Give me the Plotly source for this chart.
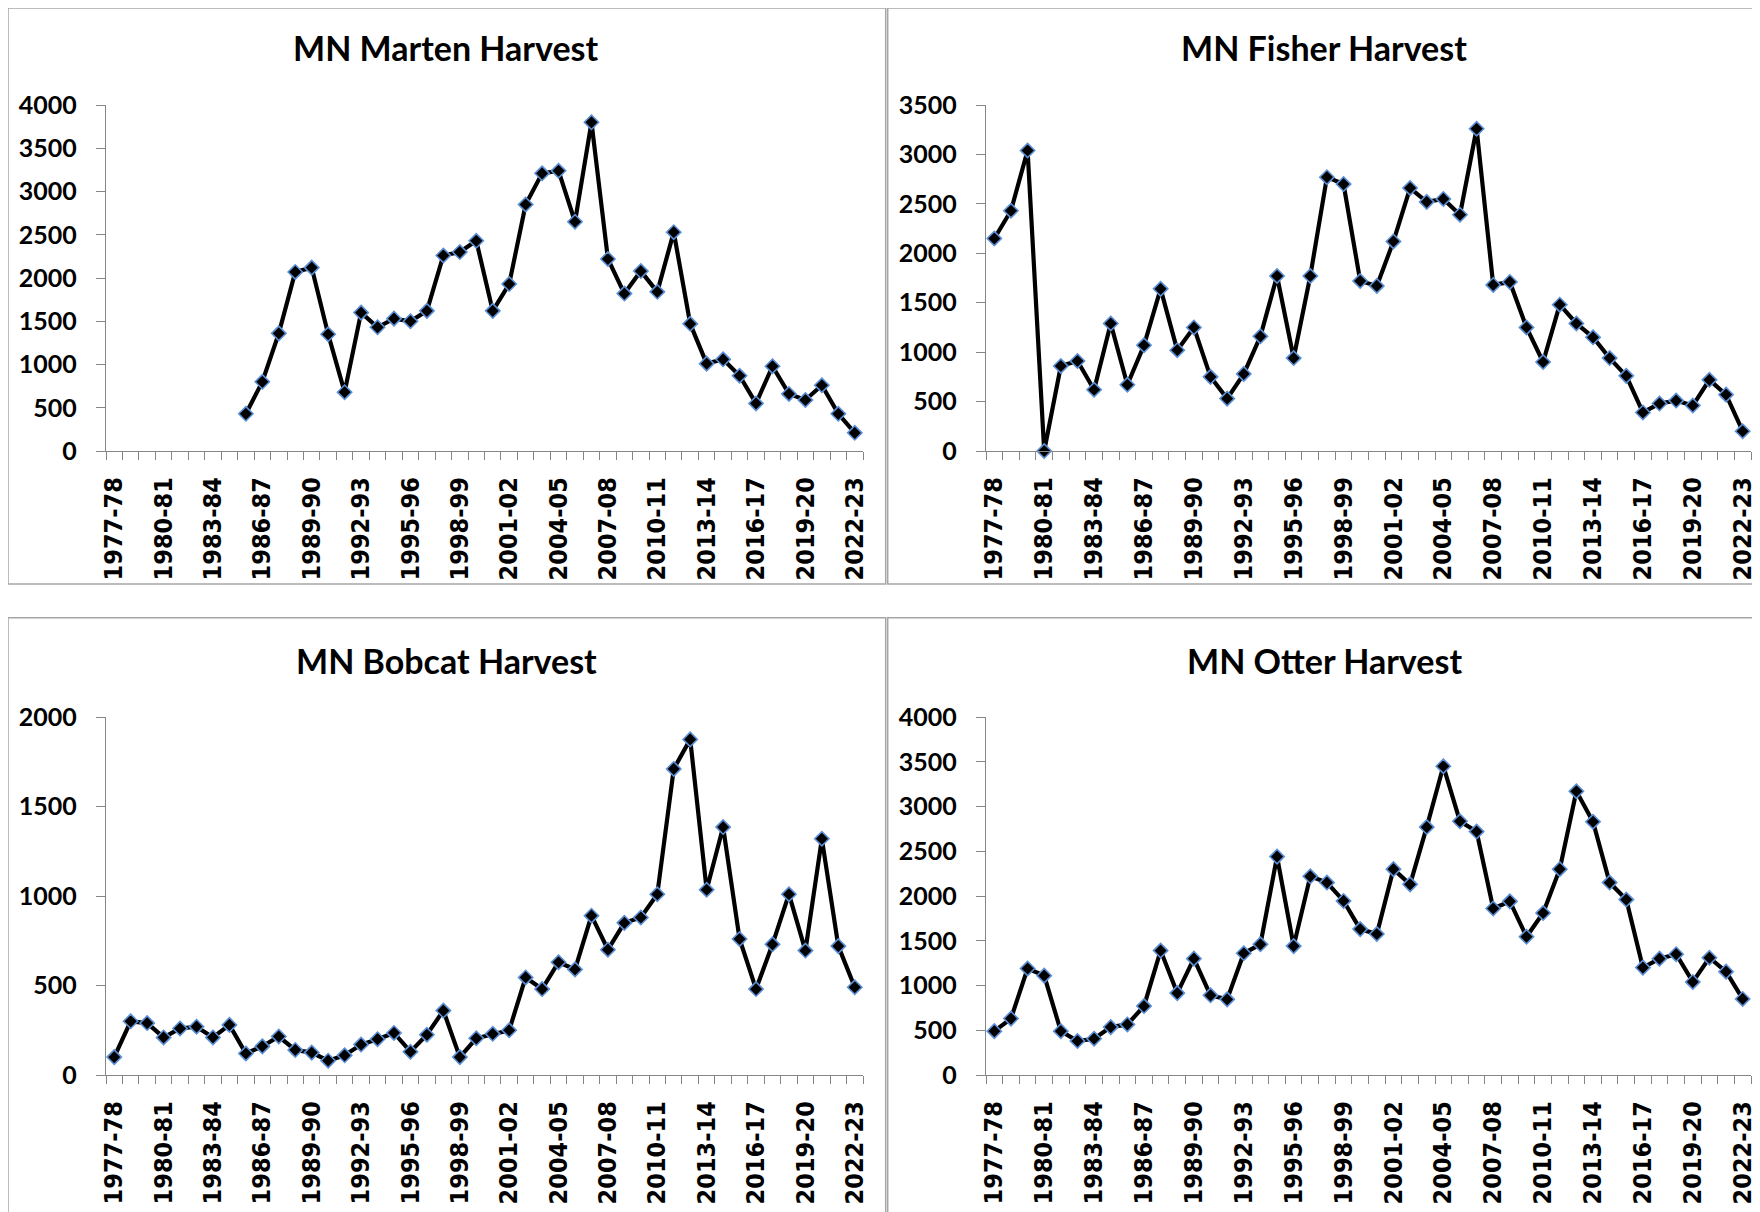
import plotly.graph_objects as go

seasons = ["1977-78", "1978-79", "1979-80", "1980-81", "1981-82", "1982-83", "1983-84",
           "1984-85", "1985-86", "1986-87", "1987-88", "1988-89", "1989-90", "1990-91",
           "1991-92", "1992-93", "1993-94", "1994-95", "1995-96", "1996-97", "1997-98",
           "1998-99", "1999-00", "2000-01", "2001-02", "2002-03", "2003-04", "2004-05",
           "2005-06", "2006-07", "2007-08", "2008-09", "2009-10", "2010-11", "2011-12",
           "2012-13", "2013-14", "2014-15", "2015-16", "2016-17", "2017-18", "2018-19",
           "2019-20", "2020-21", "2021-22", "2022-23"]

marten = [None, None, None, None, None, None, None, None,
          430, 800, 1360, 2070, 2120, 1350, 680, 1600, 1430, 1530,
          1500, 1620, 2260, 2300, 2430, 1620, 1930, 2850, 3210, 3240,
          2650, 3800, 2220, 1820, 2080, 1840, 2530, 1470, 1010, 1060,
          870, 550, 980, 660, 590, 760, 430, 210]

fisher = [2150, 2430, 3040, 0, 860, 910, 620, 1290, 670, 1070,
          1640, 1020, 1250, 750, 530, 780, 1160, 1770, 940, 1770,
          2770, 2700, 1720, 1670, 2120, 2660, 2520, 2550, 2390, 3260,
          1680, 1710, 1250, 900, 1480, 1290, 1150, 940, 760, 390,
          480, 510, 460, 720, 570, 200]

bobcat = [100, 300, 290, 210, 260, 270, 210, 280, 120, 160,
          215, 140, 125, 80, 110, 170, 200, 235, 130, 225,
          360, 100, 205, 230, 250, 545, 480, 630, 590, 890,
          700, 850, 880, 1010, 1710, 1875, 1035, 1385, 760, 480,
          730, 1010, 695, 1320, 720, 490]

otter = [490, 630, 1190, 1110, 490, 380, 405, 535, 565, 770,
         1390, 915, 1300, 890, 845, 1360, 1460, 2440, 1440, 2220,
         2150, 1945, 1630, 1575, 2300, 2130, 2770, 3450, 2835, 2720,
         1860, 1940, 1545, 1810, 2300, 3170, 2830, 2150, 1960, 1200,
         1300, 1350, 1040, 1310, 1155, 850]

titles = ["MN Marten Harvest", "MN Fisher Harvest", "MN Bobcat Harvest", "MN Otter Harvest"]
y_max = [4000, 3500, 2000, 4000]
series = [marten, fisher, bobcat, otter]

W, H = 1760, 1212
OFF = 8  # page body margin in the browser
idx = list(range(len(seasons)))

def px(x):
    return (x - OFF) / W

def py(y):
    return 1 - (y - OFF) / H

# plot-area boxes in screen pixels: (x_left, x_right, y_top, y_bottom)
boxes = [(106, 863, 105, 451), (986, 1751, 105, 451),
         (106, 863, 717, 1075), (986, 1751, 717, 1075)]
# title centres (screen pixels)
title_pos = [(446, 48), (1324, 48), (446, 660), (1324, 660)]

AX = "#868686"
fig = go.Figure()
layout = {}
for k in range(4):
    n = "" if k == 0 else str(k + 1)
    xl, xr, yt, yb = boxes[k]
    fig.add_trace(go.Scatter(
        x=idx, y=series[k], mode="lines+markers",
        xaxis="x" + n, yaxis="y" + n,
        line=dict(color="black", width=4.2),
        marker=dict(symbol="diamond", size=11, color="black",
                    line=dict(color="#5b8fd6", width=1.6)),
        cliponaxis=False, showlegend=False, connectgaps=False))
    layout["xaxis" + n] = dict(
        domain=[px(xl), px(xr)], anchor="y" + n, automargin=False,
        range=[-0.5, len(seasons) - 0.5], showgrid=False, zeroline=False,
        showline=True, linecolor=AX, linewidth=1.3,
        tickmode="array", tickvals=idx[::3], ticktext=seasons[::3],
        tickangle=-90, ticks="outside", ticklen=8, tickcolor="rgba(0,0,0,0)",
        ticklabelstandoff=7,
        tickfont=dict(family="DejaVu Sans Condensed, DejaVu Sans", size=25,
                      color="black", weight="bold"),
        minor=dict(tickmode="linear", tick0=-0.5, dtick=1, ticks="outside",
                   ticklen=8, tickcolor=AX, tickwidth=1.3, showgrid=False))
    layout["yaxis" + n] = dict(
        domain=[py(yb), py(yt)], anchor="x" + n, automargin=False,
        range=[0, y_max[k]], dtick=500, tick0=0, showgrid=False, zeroline=False,
        showline=True, linecolor=AX, linewidth=1.3,
        ticks="outside", ticklen=9, tickcolor=AX, tickwidth=1.3,
        ticklabelstandoff=14,
        tickfont=dict(family="Lato", size=25, color="black", weight="bold"))

shapes = []
panels = [(8, 885.7, 8, 584), (887.7, 1775, 8, 584),
          (8, 885.7, 617.7, 1240), (887.7, 1775, 617.7, 1240)]
for x0, x1, y0, y1 in panels:
    shapes.append(dict(type="rect", xref="paper", yref="paper",
                       x0=px(x0), x1=px(x1), y0=py(y1), y1=py(y0),
                       line=dict(color="#a6a6a6", width=1.5), layer="below"))

annotations = []
for k in range(4):
    cx, cy = title_pos[k]
    annotations.append(dict(text=titles[k], xref="paper", yref="paper",
                            x=px(cx), y=py(cy), xanchor="center", yanchor="middle",
                            showarrow=False,
                            font=dict(family="Lato", size=34, color="black", weight="bold")))

fig.update_layout(width=W, height=H, autosize=False,
                  margin=dict(l=0, r=0, t=0, b=0, pad=0, autoexpand=False),
                  paper_bgcolor="white", plot_bgcolor="white",
                  shapes=shapes, annotations=annotations, **layout)

fig.write_html("out.html")
